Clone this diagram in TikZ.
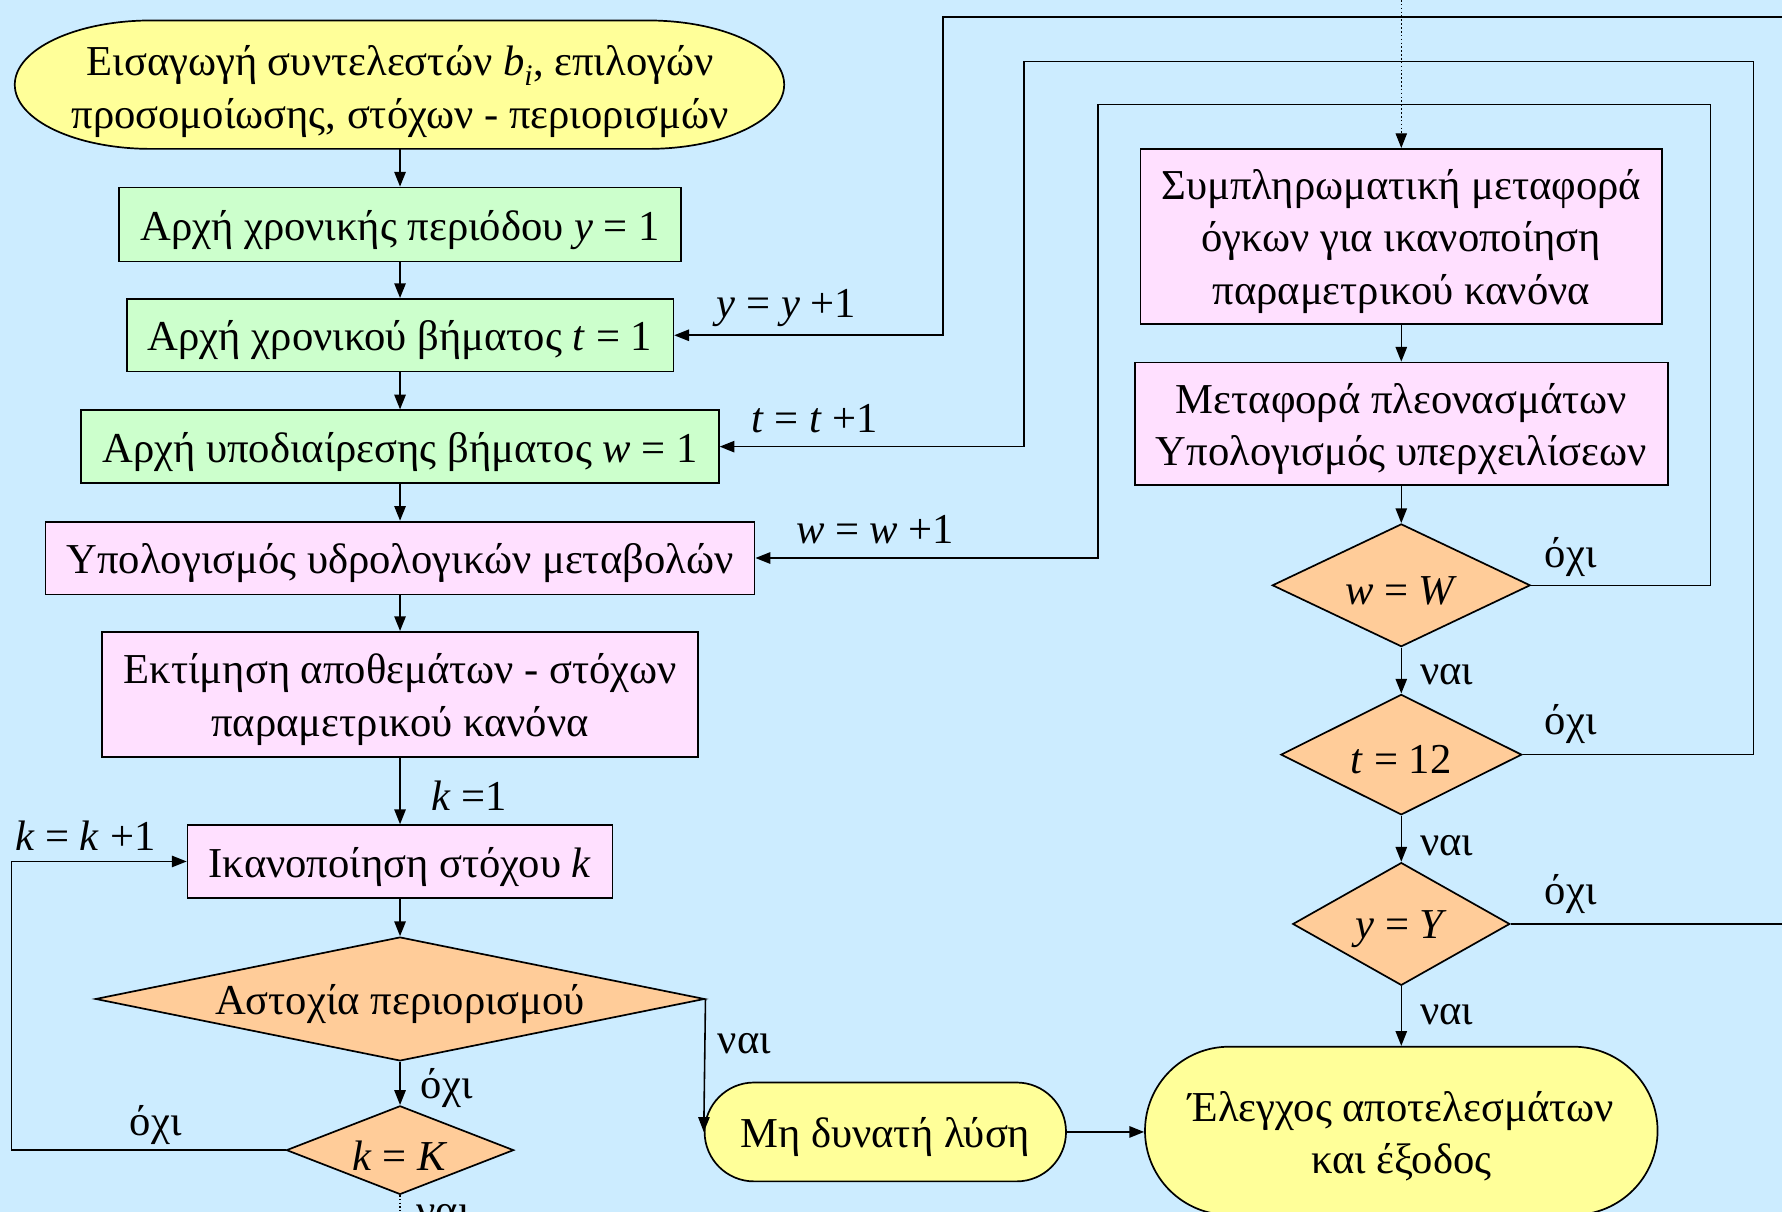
\documentclass[tikz,border=0pt]{standalone}
\usepackage{fontspec}
\setmainfont{Liberation Serif}
\usetikzlibrary{arrows.meta,shapes.geometric}
\definecolor{bgblue}{RGB}{204,236,255}
\definecolor{boxgreen}{RGB}{204,255,204}
\definecolor{boxpink}{RGB}{255,224,255}
\definecolor{decorange}{RGB}{255,204,153}
\definecolor{termyellow}{RGB}{255,255,153}
\tikzset{
  txt/.style={font=\fontsize{37.5}{46}\selectfont, align=center, inner sep=0pt, yshift=-4.5pt},
  box/.style={draw, line width=1.5pt, inner sep=0pt, rectangle},
  gbox/.style={box, fill=boxgreen},
  pbox/.style={box, fill=boxpink},
  term/.style={box, fill=termyellow},
  dec/.style={draw, shape=diamond, fill=decorange, inner sep=0pt, line width=1.5pt},
  arr/.style={line width=1.4pt, -{Triangle[length=13pt,width=10pt]}},
  conn/.style={line width=1.4pt},
  lab/.style={font=\fontsize{37.5}{46}\selectfont, inner sep=0pt},
}
\begin{document}
\begin{tikzpicture}[x=1pt,y=-1pt]
\path[use as bounding box] (0,0) rectangle (1568,1066);
\clip (0,0) rectangle (1568,1066);
\fill[bgblue] (0,0) rectangle (1568,1066);

% start terminator (elliptical ends)
\draw[line width=1.5pt, fill=termyellow] (133,18) -- (570,18)
  arc[start angle=90, end angle=-90, x radius=120pt, y radius=56.5pt]
  -- (133,131)
  arc[start angle=270, end angle=90, x radius=120pt, y radius=56.5pt] -- cycle;
\node[minimum width=677pt, minimum height=113pt, inner sep=0pt] (start) at (352,74.5) {};
\node[txt, yshift=-1.5pt] (startt) at (start)
  {Εισαγωγή συντελεστών \textit{b}\textsubscript{\textit{i}}, επιλογών\\προσομοίωσης, στόχων - περιορισμών};

% left column
\node[gbox, minimum width=495pt, minimum height=65pt] (b1) at (352,197.5) {};
\node[txt] (b1t) at (b1) {Αρχή χρονικής περιόδου \textit{y} = 1};
\node[gbox, minimum width=481pt, minimum height=64pt] (b2) at (352,295) {};
\node[txt] (b2t) at (b2) {Αρχή χρονικού βήματος \textit{t} = 1};
\node[gbox, minimum width=561pt, minimum height=64pt] (b3) at (352,393) {};
\node[txt] (b3t) at (b3) {Αρχή υποδιαίρεσης βήματος \textit{w} = 1};
\node[pbox, minimum width=624pt, minimum height=64pt] (b4) at (352,491) {};
\node[txt] (b4t) at (b4) {Υπολογισμός υδρολογικών μεταβολών};
\node[pbox, minimum width=524pt, minimum height=110pt] (b5) at (352,611) {};
\node[txt] (b5t) at (b5) {Εκτίμηση αποθεμάτων - στόχων\\παραμετρικού κανόνα};
\node[pbox, minimum width=374pt, minimum height=64pt] (b6) at (352,758) {};
\node[txt] (b6t) at (b6) {Ικανοποίηση στόχου \textit{k}};
\node[dec, minimum width=536pt, minimum height=109pt] (d1) at (352,879) {};
\node[txt] (d1t) at (d1) {Αστοχία περιορισμού};
\node[dec, minimum width=200pt, minimum height=78pt] (d2) at (352,1012) {};
\node[txt] (d2t) at (d2) {\textit{k} = \textit{K}};

% terminators bottom
\node[term, rounded corners=43.5pt, minimum width=318pt, minimum height=87pt] (nosol) at (779,996) {};
\node[txt] (nosolt) at (nosol) {Μη δυνατή λύση};
\node[term, rounded corners=74pt, minimum width=451pt, minimum height=148pt] (final) at (1233,995) {};
\node[txt] (finalt) at (final) {Έλεγχος αποτελεσμάτων\\και έξοδος};

% right column
\node[pbox, minimum width=459pt, minimum height=154pt] (r1) at (1233,208) {};
\node[txt] (r1t) at (r1) {Συμπληρωματική μεταφορά\\όγκων για ικανοποίηση\\παραμετρικού κανόνα};
\node[pbox, minimum width=469pt, minimum height=108pt] (r2) at (1233,373) {};
\node[txt] (r2t) at (r2) {Μεταφορά πλεονασμάτων\\Υπολογισμός υπερχειλίσεων};
\node[dec, minimum width=227pt, minimum height=108pt] (dw) at (1233,515) {};
\node[txt] (dwt) at (dw) {\textit{w} = \textit{W}};
\node[dec, minimum width=212pt, minimum height=106pt] (dt) at (1233,664) {};
\node[txt] (dtt) at (dt) {\textit{t} = 12};
\node[dec, minimum width=191pt, minimum height=108pt] (dy) at (1233,813) {};
\node[txt] (dyt) at (dy) {\textit{y} = \textit{Y}};

% free ends
\coordinate (topin) at (1233,0);
\coordinate (botout) at (352,1066);
\coordinate (yedge) at (1568,813);
\coordinate (ytop) at (1568,15);

% main flow
\draw[arr] (start.south) -- (b1.north);
\draw[arr] (b1.south) -- (b2.north);
\draw[arr] (b2.south) -- (b3.north);
\draw[arr] (b3.south) -- (b4.north);
\draw[arr] (b4.south) -- (b5.north);
\draw[arr] (b5.south) -- (b6.north);
\draw[arr] (b6.south) -- (d1.north);
\draw[arr] (d1.south) -- (d2.north);
\draw[line width=1.2pt, dotted] (d2.south) -- (botout);
\draw[arr] (d1.east) -- (nosol.west);
\draw[arr] (nosol.east) -- (nosol.east -| final.west);
\draw[arr] (d2.west) -| (10,758) -- (b6.west);

\draw[arr, dotted, line width=1.2pt] (topin) -- (r1.north);
\draw[arr] (r1.south) -- (r2.north);
\draw[arr] (r2.south) -- (dw.north);
\draw[arr] (dw.south) -- (dt.north);
\draw[arr] (dt.south) -- (dy.north);
\draw[arr] (dy.south) -- (final.north);

% loops
\draw[arr] (dw.east) -| (1505,92) -| (966,491) -- (b4.east);
\draw[arr] (dt.east) -| (1543,54) -| (901,393) -- (b3.east);
\draw[conn] (dy.east) -- (yedge);
\draw[arr] (ytop) -| (830,295) -- (b2.east);

% labels
\node[lab] (lk1) at (413,700) {\textit{k} =1};
\node[lab] (lno1) at (393,957) {όχι};
\node[lab] (lno2) at (137,990) {όχι};
\node[lab] (lkk) at (75,735) {\textit{k} = \textit{k} +1};
\node[lab] (lyes1) at (655,918) {ναι};
\node[lab, anchor=base] (lyes0) at (390,1077) {ναι};
\node[lab] (lyy) at (692,271) {\textit{y} = \textit{y} +1};
\node[lab] (ltt) at (717,368) {\textit{t} = \textit{t} +1};
\node[lab] (lww) at (770,466) {\textit{w} = \textit{w} +1};
\node[lab] (lno3) at (1382,490) {όχι};
\node[lab] (lno4) at (1382,637) {όχι};
\node[lab] (lno5) at (1382,787) {όχι};
\node[lab] (lyes2) at (1273,594) {ναι};
\node[lab] (lyes3) at (1273,744) {ναι};
\node[lab] (lyes4) at (1273,893) {ναι};
\end{tikzpicture}
\end{document}
